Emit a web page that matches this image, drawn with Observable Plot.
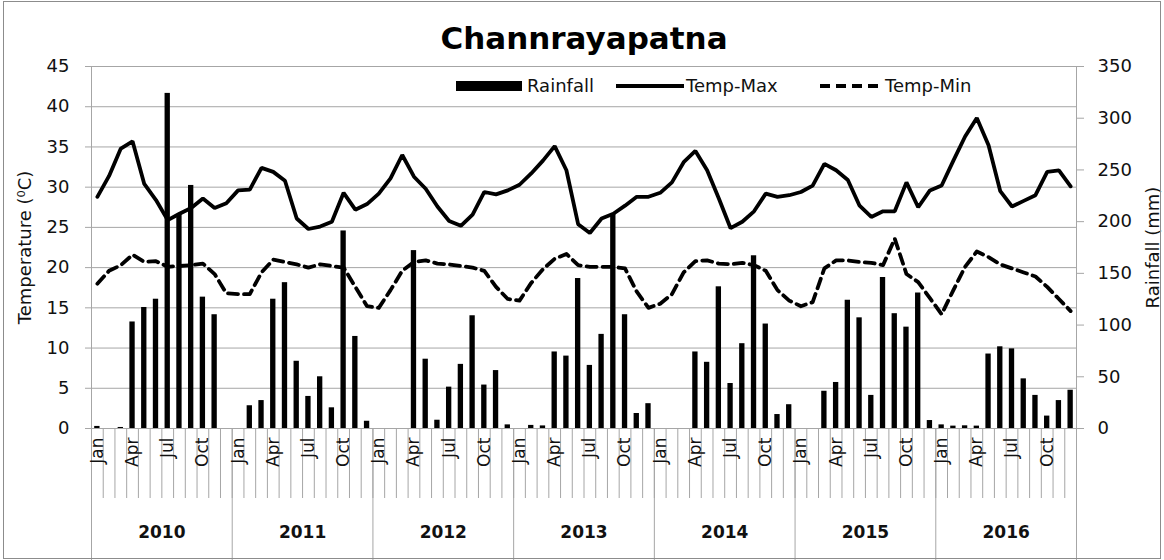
<!DOCTYPE html>
<html>
<head>
<meta charset="utf-8">
<script src="https://cdn.jsdelivr.net/npm/d3@7"></script>
<script src="https://cdn.jsdelivr.net/npm/@observablehq/plot@0.6"></script>
<style>
  html, body { margin: 0; padding: 0; background: #fff; }
  #wrap { position: relative; width: 1164px; height: 560px; overflow: hidden; font-family: "DejaVu Sans", sans-serif; }
  #border { position: absolute; left: 3px; top: 1px; width: 1156px; height: 556px; border: 1px solid #8c8c8c; pointer-events: none; }
  .lg { position: absolute; font-size: 18px; color: #111; line-height: 1; }
</style>
</head>
<body>
<div id="wrap">
  <div id="chart"></div>
  <div id="border"></div>
  <div id="legend"></div>
</div>
<script>
const monthNames = ["Jan","Feb","Mar","Apr","May","Jun","Jul","Aug","Sep","Oct","Nov","Dec"];
const years = [2010, 2011, 2012, 2013, 2014, 2015, 2016];
const tempTicks = [0, 5, 10, 15, 20, 25, 30, 35, 40, 45];
const rainTicks = [0, 50, 100, 150, 200, 250, 300, 350];
const seriesNames = ["Rainfall", "Temp-Max", "Temp-Min"];

// Monthly rainfall (mm), Jan 2010 – Dec 2016
const rainfall = [
  2, 0, 1, 103, 117, 125, 324, 207, 235, 127, 110, 0,
  0, 22, 27, 125, 141, 65, 31, 50, 20, 191, 89, 7,
  0, 0, 0, 172, 67, 8, 40, 62, 109, 42, 56, 3.5,
  0, 3, 2.5, 74, 70, 145, 61, 91, 207, 110, 14.5, 24,
  0, 0, 0, 74, 64, 137, 43.5, 82, 167, 101, 13.5, 23,
  0, 0, 36, 44.5, 124, 107, 32, 146, 111, 98, 131, 7.7,
  3.5, 2.3, 2.6, 2.3, 72, 79, 77, 48, 32, 12, 27, 37
];
// Monthly maximum temperature (°C)
const tempMax = [
  28.8, 31.4, 34.8, 35.7, 30.4, 28.4, 25.9, 26.7, 27.4, 28.6, 27.4, 28.0,
  29.6, 29.7, 32.4, 31.9, 30.8, 26.1, 24.8, 25.1, 25.7, 29.3, 27.2, 27.9,
  29.2, 31.1, 34.0, 31.3, 29.8, 27.6, 25.8, 25.2, 26.6, 29.4, 29.1, 29.6,
  30.3, 31.7, 33.3, 35.1, 32.1, 25.4, 24.3, 26.1, 26.7, 27.7, 28.8, 28.8,
  29.3, 30.6, 33.1, 34.5, 32.1, 28.6, 24.9, 25.7, 27.0, 29.2, 28.8, 29.0,
  29.4, 30.2, 32.9, 32.1, 30.9, 27.7, 26.3, 27.0, 27.0, 30.6, 27.5, 29.6,
  30.2, 33.3, 36.3, 38.6, 35.2, 29.5, 27.6, 28.3, 29.0, 31.9, 32.1, 30.1
];
// Monthly minimum temperature (°C)
const tempMin = [
  18.0, 19.6, 20.3, 21.6, 20.7, 20.8, 20.1, 20.2, 20.3, 20.5, 19.2, 16.8,
  16.7, 16.7, 19.4, 21.0, 20.7, 20.4, 20.0, 20.4, 20.2, 20.0, 17.6, 15.2,
  15.0, 17.2, 19.6, 20.7, 20.9, 20.5, 20.4, 20.2, 20.0, 19.6, 17.6, 16.1,
  15.9, 18.1, 19.8, 21.1, 21.7, 20.3, 20.1, 20.1, 20.1, 19.9, 17.0, 15.0,
  15.5, 16.7, 19.4, 20.8, 20.9, 20.5, 20.4, 20.6, 20.3, 19.6, 17.2, 15.9,
  15.2, 15.7, 19.9, 20.9, 20.9, 20.7, 20.6, 20.3, 23.6, 19.2, 18.2, 16.2,
  14.2, 17.2, 20.1, 22.0, 21.3, 20.4, 19.9, 19.4, 18.9, 17.6, 16.1, 14.6
];

const nMonths = years.length * 12;
const k = 45 / 350; // rainfall (mm) -> temperature-axis units
const data = rainfall.map((r, i) => ({i, rain: r, tmax: tempMax[i], tmin: tempMin[i]}));
const boundaries = d3.range(0, nMonths + 1);
const yearBounds = d3.range(0, nMonths + 1, 12);
const labelMonths = d3.range(0, nMonths).filter(i => i % 3 === 0);
const grey = "#a6a6a6";

const chart = Plot.plot({
  width: 1164,
  height: 560,
  marginLeft: 91,
  marginRight: 88,
  marginTop: 66,
  marginBottom: 132,
  style: {fontFamily: "DejaVu Sans, sans-serif", fontSize: "16px", color: "#111", background: "transparent", overflow: "visible"},
  x: {domain: [0, nMonths]},
  y: {domain: [0, 45]},
  marks: [
    Plot.gridY(tempTicks.slice(1), {stroke: grey, strokeOpacity: 1, strokeWidth: 1}),
    Plot.ruleX([0, nMonths], {stroke: grey, strokeWidth: 1}),
    Plot.ruleY([0], {stroke: grey, strokeWidth: 1}),
    Plot.axisY(tempTicks, {anchor: "left", tickSize: 6, tickPadding: 16, stroke: grey, fill: "#111", fontSize: 18, label: null}),
    Plot.axisY(rainTicks.map(r => r * k), {anchor: "right", tickSize: 7, tickPadding: 14, stroke: grey, fill: "#111", fontSize: 18, label: null, tickFormat: v => String(Math.round(v / k))}),
    Plot.axisX(boundaries, {anchor: "bottom", tickSize: 70, tickFormat: () => "", stroke: grey, label: null}),
    Plot.axisX(yearBounds, {anchor: "bottom", tickSize: 132, tickFormat: () => "", stroke: grey, label: null}),
    Plot.axisX(labelMonths.map(i => i + 0.5), {anchor: "bottom", tickSize: 0, tickPadding: 9, tickRotate: -90, fontSize: 17, fill: "#111", label: null, tickFormat: v => monthNames[Math.floor(v) % 12]}),
    Plot.axisX(years.map((y, j) => j * 12 + 6), {anchor: "bottom", tickSize: 0, tickPadding: 97, fontSize: 17, fontWeight: "bold", fill: "#111", label: null, tickFormat: v => String(years[Math.floor(v / 12)])}),
    Plot.rectY(data, {x1: "i", x2: d => d.i + 1, y: d => d.rain * k, insetLeft: 3.2, insetRight: 3.2, fill: "#000"}),
    Plot.line(data, {x: d => d.i + 0.5, y: "tmax", stroke: "#000", strokeWidth: 3.8, strokeLinejoin: "miter"}),
    Plot.line(data, {x: d => d.i + 0.5, y: "tmin", stroke: "#000", strokeWidth: 3.8, strokeDasharray: "10,6"}),
    Plot.text(["Channrayapatna"], {frameAnchor: "top", dy: -27, lineAnchor: "middle", fontSize: 31, fontWeight: "bold", fill: "#000"}),
    Plot.text(["Temperature (\u2070C)"], {frameAnchor: "left", textAnchor: "middle", dx: -66, rotate: -90, fontSize: 18, fill: "#111"}),
    Plot.text(["Rainfall (mm)"], {frameAnchor: "right", textAnchor: "middle", dx: 77, rotate: -90, fontSize: 18, fill: "#111"})
  ]
});
document.getElementById("chart").appendChild(chart);

// Legend (inside plot area, top)
const lg = document.getElementById("legend");
lg.innerHTML = `
  <div style="position:absolute;left:456px;top:81px;width:66px;height:10px;background:#000"></div>
  <div class="lg" style="left:527px;top:77px">${seriesNames[0]}</div>
  <svg style="position:absolute;left:614px;top:80px" width="72" height="12"><line x1="2" y1="6" x2="70" y2="6" stroke="#000" stroke-width="3.8"/></svg>
  <div class="lg" style="left:686px;top:77px">${seriesNames[1]}</div>
  <svg style="position:absolute;left:818px;top:80px" width="66" height="12"><line x1="2" y1="6" x2="64" y2="6" stroke="#000" stroke-width="3.8" stroke-dasharray="10,6"/></svg>
  <div class="lg" style="left:885px;top:77px">${seriesNames[2]}</div>
`;
</script>
</body>
</html>
